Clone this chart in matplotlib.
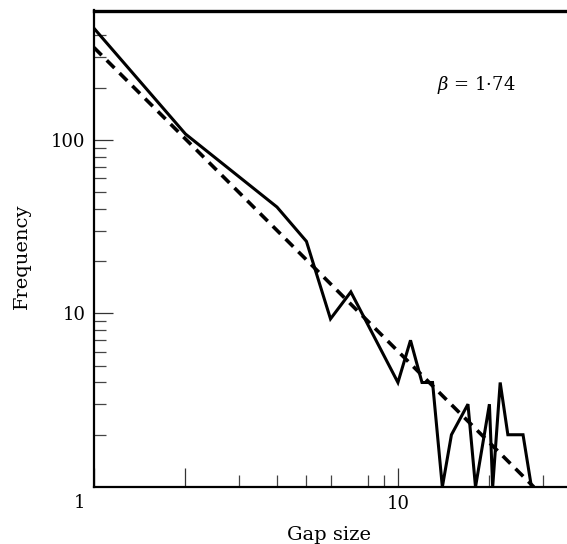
#!/usr/bin/env python3
import matplotlib
matplotlib.use("Agg")
import matplotlib.pyplot as plt

# observed gap size distribution (solid line)
gap_size = [1, 2, 4, 5, 6, 7, 10, 11, 12, 13, 14, 15, 17, 18, 20, 20.5, 21.7, 23, 25.8, 27.5]
frequency = [439, 108, 41, 26, 9.3, 13.3, 4, 7, 4, 4, 1, 2, 3, 1, 3, 1, 4, 2, 2, 1]

# power law fit (dashed line), end points
fit_x = [1, 28]
fit_y = [340, 1.0]
beta_label = r"$\beta$ = 1·74"

x_minor = [3, 4, 5, 6, 8, 9, 20, 30]
x_major = [1, 2, 10]
x_major_labels = ["", "", "10"]
y_major = [10, 100]
y_major_labels = ["10", "100"]
y_minor = [2, 3, 4, 5, 6, 7, 8, 9, 20, 30, 40, 50, 60, 70, 80, 90, 200, 300, 400]


def create_plot(filename):
    plt.rcParams["font.family"] = "DejaVu Serif"
    plt.rcParams["mathtext.fontset"] = "dejavuserif"

    fig = plt.figure(figsize=(5.67, 5.44), dpi=100)
    ax = fig.add_axes([94 / 567, 1 - 487 / 544, 1 - 94 / 567, (487 - 10.5) / 544])

    ax.set_xscale("log")
    ax.set_yscale("log")
    ax.set_xlim(1, 36)
    ax.set_ylim(1, 556)

    ax.plot(gap_size, frequency, color="k", lw=2.2, solid_joinstyle="miter")
    ax.plot(fit_x, fit_y, color="k", lw=2.6, dashes=(3.0, 2.0))

    ax.set_xticks(x_major)
    ax.set_xticklabels(x_major_labels)
    ax.set_xticks(x_minor, minor=True)
    ax.set_xticklabels([""] * len(x_minor), minor=True)
    ax.set_yticks(y_major)
    ax.set_yticklabels(y_major_labels)
    ax.set_yticks(y_minor, minor=True)
    ax.set_yticklabels([""] * len(y_minor), minor=True)

    ax.tick_params(which="major", direction="in", length=13.5, width=0.9, color="#333333",
                   labelsize=13, pad=6)
    ax.tick_params(which="minor", direction="in", length=8.8, width=0.9, color="#444444")

    ax.spines["right"].set_visible(False)
    ax.spines["top"].set_linewidth(2.4)
    ax.spines["left"].set_linewidth(1.6)
    ax.spines["bottom"].set_linewidth(1.6)

    ax.set_xlabel("Gap size", fontsize=14, va="center")
    ax.xaxis.set_label_coords(0.497, -0.1)
    ax.set_ylabel("Frequency", fontsize=14, va="center")
    ax.yaxis.set_label_coords(-0.152, 0.484)

    # shared corner label for x = 1 and y = 1
    fig.text(80 / 567, 1 - 503 / 544, "1", ha="center", va="center", fontsize=13)

    ax.text(476 / 567, 1 - 85 / 544, beta_label, transform=fig.transFigure,
            ha="center", va="center", fontsize=13)

    fig.savefig(filename, dpi=100)
    plt.close()


def main():
    create_plot("out.png")


if __name__ == "__main__":
    main()
